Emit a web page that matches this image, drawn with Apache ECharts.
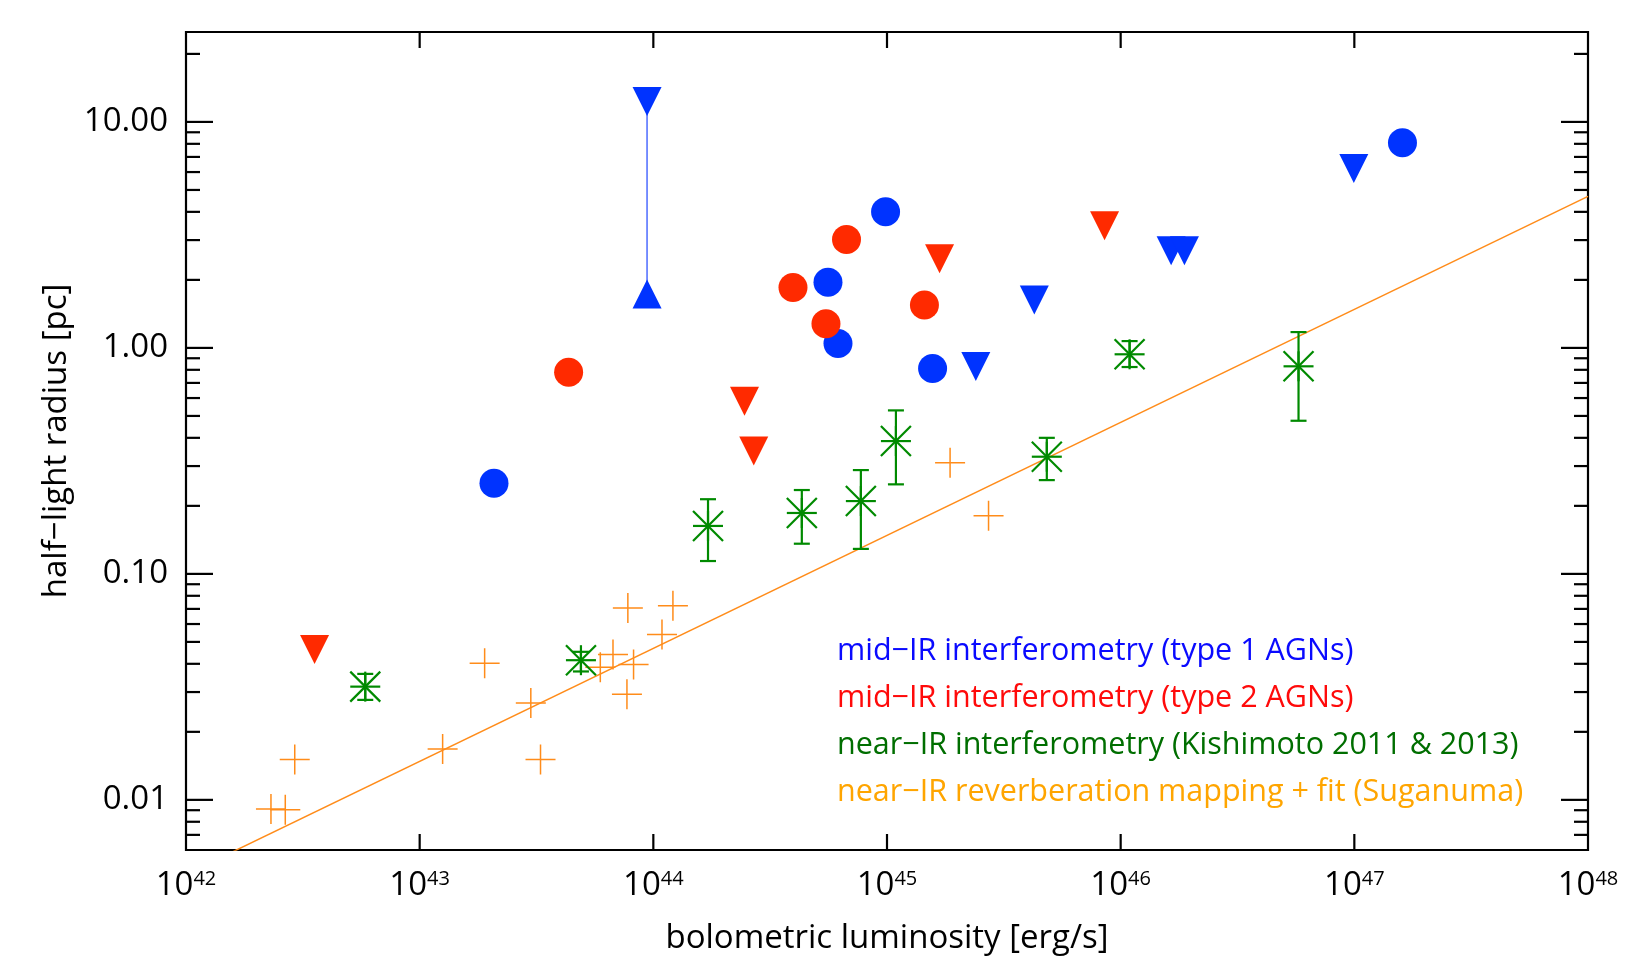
<!DOCTYPE html>
<html>
<head>
<meta charset="utf-8">
<script src="https://cdn.jsdelivr.net/npm/echarts@6/dist/echarts.min.js"></script>
<style>
html,body{margin:0;padding:0;background:#ffffff;}
#chart{width:1639px;height:966px;}
</style>
</head>
<body>
<div id="chart"></div>
<script>
// ---------------- data ----------------
const NAME_T1 = 'mid\u2212IR interferometry (type 1 AGNs)';
const NAME_T2 = 'mid\u2212IR interferometry (type 2 AGNs)';
const NAME_NIRI = 'near\u2212IR interferometry (Kishimoto 2011 & 2013)';
const NAME_NIRRM = 'near\u2212IR reverberation mapping + fit (Suganuma)';

// [L_bol (erg/s), half-light radius (pc)]
const type1Circles = [[2.08e43,0.252],[5.59e44,1.95],[6.17e44,1.045],[9.86e44,4.0],[1.567e45,0.81],[1.607e47,8.08]];
const type1Upper = [[2.40e45,0.828],[4.27e45,1.63],[1.644e46,2.69],[1.875e46,2.69],[9.95e46,6.22]];
const type1RangeL = 9.4e43;
const type1RangeTop = 12.3;
const type1RangeBottom = 1.73;

const type2Circles = [[4.34e43,0.78],[3.96e44,1.85],[5.48e44,1.28],[6.71e44,3.02],[1.446e45,1.55]];
const type2Upper = [[3.55e42,0.0463],[2.455e44,0.581],[2.69e44,0.35],[1.679e45,2.48],[8.53e45,3.47]];

// [L, r, r_low, r_high]
const nirInterf = [
  [5.85e42,0.0317,0.0277,0.0361],
  [4.90e43,0.0415,0.0370,0.0452],
  [1.714e44,0.163,0.114,0.214],
  [4.32e44,0.186,0.136,0.235],
  [7.73e44,0.210,0.129,0.288],
  [1.092e45,0.387,0.249,0.529],
  [4.83e45,0.330,0.260,0.400],
  [1.092e46,0.937,0.823,1.072],
  [5.77e46,0.829,0.476,1.175]
];

const nirRM = [[2.92e42,0.0151],[2.31e42,0.00911],[2.66e42,0.00904],[1.254e43,0.0168],[1.897e43,0.0402],
  [2.99e43,0.0268],[3.29e43,0.0151],[5.93e43,0.0386],[6.72e43,0.044],[8.23e43,0.0397],[7.71e43,0.0293],
  [7.78e43,0.0707],[1.089e44,0.0539],[1.213e44,0.0722],[1.862e45,0.31],[2.72e45,0.181]];

const fitLine = [[1e42,0.00468],[1e48,4.68]];

const xMin = 1e42, xMax = 1e48;
const yMin = 0.006, yMax = 25;
const xMajorTicks = [1e43,1e44,1e45,1e46,1e47];
const yMajorTicks = [0.01,0.1,1,10];
const yMinorTicks = [0.007,0.008,0.009,0.02,0.03,0.04,0.05,0.06,0.07,0.08,0.09,
  0.2,0.3,0.4,0.5,0.6,0.7,0.8,0.9,2,3,4,5,6,7,8,9,20];

// ---------------- styles ----------------
const C_BLUE = '#0033ff', C_RED = '#ff2a00', C_GREEN = '#008a00', C_ORANGE = '#ff8c1a';
const FONT = 'Open Sans';

function isDecade(v){ const l = Math.log10(v); return Math.abs(l - Math.round(l)) < 1e-6; }

const tickData = []
  .concat(xMajorTicks.map(v => [v, 1, 2]))
  .concat(yMajorTicks.map(v => [1e45, v, 0]))
  .concat(yMinorTicks.map(v => [1e45, v, 1]));

const chart = echarts.init(document.getElementById('chart'), null, {renderer:'canvas'});

const option = {
  backgroundColor: '#ffffff',
  animation: false,
  textStyle: {fontFamily: FONT},
  grid: {left:186, right:51, top:32, bottom:116, show:true, borderColor:'#000', borderWidth:2.2,
         backgroundColor:'transparent', containLabel:false, outerBoundsMode:'none'},
  legend: {
    orient:'vertical', left:832, top:628, padding:0, itemGap:0, itemWidth:0, itemHeight:0,
    selectedMode:false, icon:'circle',
    textStyle:{fontFamily:FONT, fontSize:30.5, lineHeight:47},
    data:[
      {name:NAME_T1, textStyle:{color:'#0a0aff'}},
      {name:NAME_T2, textStyle:{color:'#ff0a0a'}},
      {name:NAME_NIRI, textStyle:{color:'#006e00'}},
      {name:NAME_NIRRM, textStyle:{color:'#ffa500'}}
    ]
  },
  xAxis: {
    type:'log', logBase:10, min:xMin, max:xMax,
    axisLine:{show:false}, axisTick:{show:false}, splitLine:{show:false}, minorTick:{show:false},
    axisLabel:{
      margin:19, color:'#000',
      formatter: v => isDecade(v) ? '{b|10}{s|' + Math.round(Math.log10(v)) + '}' : '',
      rich:{ b:{fontFamily:FONT, fontSize:33, color:'#000'},
             s:{fontFamily:FONT, fontSize:20, color:'#000', padding:[0,0,14,0]} }
    },
    name:'bolometric luminosity [erg/s]', nameLocation:'middle', nameGap:72,
    nameTextStyle:{fontFamily:FONT, fontSize:33, color:'#000'}
  },
  yAxis: {
    type:'log', logBase:10, min:yMin, max:yMax,
    axisLine:{show:false}, axisTick:{show:false}, splitLine:{show:false}, minorTick:{show:false},
    axisLabel:{
      margin:18, color:'#000', fontFamily:FONT, fontSize:33,
      formatter: v => isDecade(v) ? v.toFixed(2) : ''
    },
    name:'half\u2212light radius [pc]', nameLocation:'middle', nameGap:113, nameRotate:90,
    nameTextStyle:{fontFamily:FONT, fontSize:33, color:'#000'}
  },
  series: [
    { // fit line
      name: NAME_NIRRM, type:'line', data: fitLine, showSymbol:false, symbol:'none', clip:true,
      lineStyle:{color:C_ORANGE, width:1.5, opacity:1}, itemStyle:{color:C_ORANGE}, silent:true, z:2
    },
    { // reverberation mapping points
      name: NAME_NIRRM, type:'scatter', data: nirRM,
      symbol:'path://M0,15L30,15M15,0L15,30', symbolSize:30,
      itemStyle:{color:'rgba(0,0,0,0)', borderColor:C_ORANGE, borderWidth:1.5, opacity:1}, z:3
    },
    { // near-IR interferometry asterisks with error bars
      name: NAME_NIRI, type:'custom', data: nirInterf, encode:{x:0, y:1}, clip:false, z:4,
      itemStyle:{color:C_GREEN, opacity:1},
      renderItem: function(params, api){
        const L = api.value(0), r = api.value(1), lo = api.value(2), hi = api.value(3);
        const c = api.coord([L, r]), a = api.coord([L, lo]), b = api.coord([L, hi]);
        const s = 15, cap = 8;
        const st = {stroke:C_GREEN, lineWidth:2.2, fill:null};
        const seg = (x1,y1,x2,y2) => ({type:'line', shape:{x1,y1,x2,y2}, style:st});
        return {type:'group', children:[
          seg(c[0]-s, c[1], c[0]+s, c[1]),
          seg(c[0], c[1]-s, c[0], c[1]+s),
          seg(c[0]-s, c[1]-s, c[0]+s, c[1]+s),
          seg(c[0]-s, c[1]+s, c[0]+s, c[1]-s),
          seg(c[0], a[1], c[0], b[1]),
          seg(c[0]-cap, a[1], c[0]+cap, a[1]),
          seg(c[0]-cap, b[1], c[0]+cap, b[1])
        ]};
      }
    },
    { // type 1 range (upper & lower limit)
      name: NAME_T1, type:'line', z:5,
      data:[
        {value:[type1RangeL, type1RangeTop], symbol:'triangle', symbolRotate:180},
        {value:[type1RangeL, type1RangeBottom], symbol:'triangle', symbolRotate:0}
      ],
      symbolSize:[29,29], showAllSymbol:true,
      lineStyle:{color:'#4d6bff', width:1.5}, itemStyle:{color:C_BLUE, opacity:1}
    },
    {
      name: NAME_T1, type:'scatter', data: type1Upper, symbol:'triangle', symbolRotate:180,
      symbolSize:[29,29], itemStyle:{color:C_BLUE, opacity:1}, z:5
    },
    {
      name: NAME_T1, type:'scatter', data: type1Circles, symbol:'circle', symbolSize:29,
      itemStyle:{color:C_BLUE, opacity:1}, z:5
    },
    {
      name: NAME_T2, type:'scatter', data: type2Upper, symbol:'triangle', symbolRotate:180,
      symbolSize:[29,29], itemStyle:{color:C_RED, opacity:1}, z:5
    },
    {
      name: NAME_T2, type:'scatter', data: type2Circles, symbol:'circle', symbolSize:29,
      itemStyle:{color:C_RED, opacity:1}, z:5
    },
    { // axis ticks (inside, on all four sides)
      name:'ticks', type:'custom', data: tickData, encode:{x:0, y:1}, clip:false, silent:true, z:10,
      renderItem: function(params, api){
        const cs = params.coordSys;
        const kind = api.value(2);
        const st = {stroke:'#000', lineWidth:2.2, fill:null};
        const seg = (x1,y1,x2,y2) => ({type:'line', shape:{x1,y1,x2,y2}, style:st});
        if (kind === 2) {
          const p = api.coord([api.value(0), 1]);
          return {type:'group', children:[
            seg(p[0], cs.y + cs.height, p[0], cs.y + cs.height - 16),
            seg(p[0], cs.y, p[0], cs.y + 16)
          ]};
        }
        const p = api.coord([1e45, api.value(1)]);
        const len = kind === 0 ? 27 : 14;
        return {type:'group', children:[
          seg(cs.x, p[1], cs.x + len, p[1]),
          seg(cs.x + cs.width, p[1], cs.x + cs.width - len, p[1])
        ]};
      }
    }
  ]
};
chart.setOption(option);
</script>
</body>
</html>
